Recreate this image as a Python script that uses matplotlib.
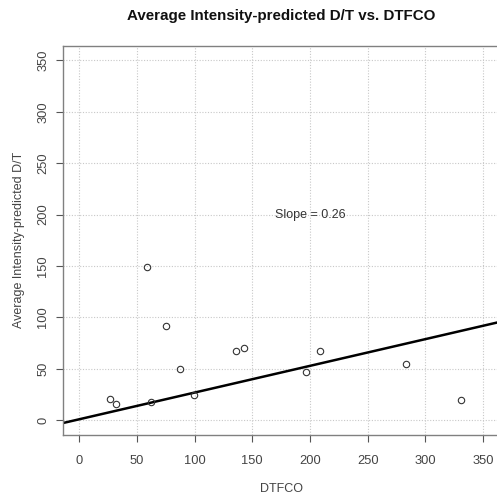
import numpy as np
import matplotlib
matplotlib.use("Agg")
import matplotlib.pyplot as plt

plt.rcParams['font.family'] = ['Liberation Sans', 'DejaVu Sans']

# data
dtfco = [27.0, 31.9, 59.1, 62.3, 75.3, 87.2, 99.4, 135.6, 143.1, 196.5, 208.4, 283.2, 331.0]
avg_dt = [20.9, 16.0, 149.2, 17.5, 91.6, 49.4, 24.7, 67.0, 70.2, 46.5, 67.0, 54.3, 19.9]
slope = 0.26
intercept = 0.8
ticks = [0, 50, 100, 150, 200, 250, 300, 350]

fig = plt.figure(figsize=(4.97, 5.0), dpi=100)
W, H = 497, 500
ax = fig.add_axes([63 / W, 1 - 434.5 / H, (499.3 - 63) / W, (434.5 - 46) / H])

ax.set_xlim(-14, 364)
ax.set_ylim(-14, 364)
ax.set_xticks(ticks)
ax.set_yticks(ticks)
ax.grid(True, color='#c8c8c8', linestyle=(0, (1, 1.5)), linewidth=0.8)
ax.set_axisbelow(True)

ax.plot(dtfco, avg_dt, 'o', mfc='none', mec='#333333', ms=4.6, mew=0.8, zorder=3)
ax.axline((0, intercept), slope=slope, color='black', lw=1.8, zorder=2)
ax.text(200, 200, "Slope = 0.26", ha='center', va='center', fontsize=9, color='#333333')

for s in ax.spines.values():
    s.set_color('#808080')
    s.set_linewidth(1.0)
ax.tick_params(axis='both', length=5, width=0.8, color='#555555', labelsize=9.3,
               labelcolor='#444444')
ax.tick_params(axis='x', pad=9.5)
ax.tick_params(axis='y', pad=5)
for lab in ax.get_yticklabels():
    lab.set_rotation(90)
    lab.set_va('center')

ax.set_xlabel("DTFCO", fontsize=9, color='#444444', labelpad=12)
ax.set_ylabel("Average Intensity-predicted D/T", fontsize=9, color='#444444', labelpad=9)
fig.text(281 / W, 1 - 16 / H, "Average Intensity-predicted D/T vs. DTFCO",
         ha='center', va='center', fontsize=10.9, fontweight='bold', color='#111111')

fig.savefig("out.png", dpi=100)
